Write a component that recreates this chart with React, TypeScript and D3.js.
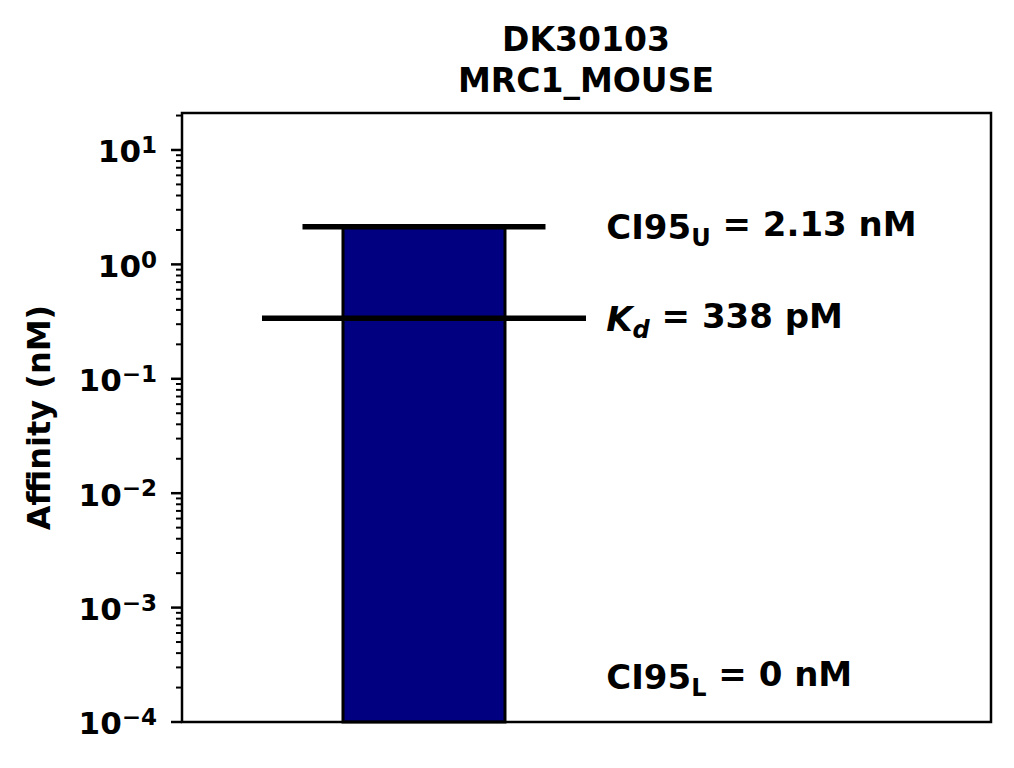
import * as d3 from "d3";
import React from "react";

// values
const categories = ["DK30103"];
const kdValues = [0.338]; // nM
const ci95Upper = [2.13]; // nM
const ci95Lower = [0]; // nM
const titleLines = ["DK30103", "MRC1_MOUSE"];
const yTickExponents = [1, 0, -1, -2, -3, -4];

const W = 1014;
const H = 768;
const margin = { top: 113, right: 23, bottom: 46, left: 182 };
const FONT = "'DejaVu Sans', sans-serif";
const BIG = 34;
const SMALL = 24;

export default function App() {
  const innerW = W - margin.left - margin.right;
  const innerH = H - margin.top - margin.bottom;

  const y = d3.scaleLog().domain([1e-4, 21.05]).range([innerH, 0]);
  const x = d3.scaleLinear().domain([-1.195, 2.8]).range([0, innerW]);

  const minor: number[] = [];
  for (let e = -4; e <= 1; e++) {
    for (let m = 2; m <= 9; m++) {
      const v = m * Math.pow(10, e);
      if (v <= y.domain()[1]) minor.push(v);
    }
  }

  const barW = 0.8;
  const c = 0;
  const upper = ci95Upper[0];
  const kd = kdValues[0];
  const textX = x(0.9);

  return (
    <svg width={W} height={H} style={{ position: "absolute", left: 0, top: 0, background: "#fff" }} fontFamily={FONT} fontWeight="bold">
      <text x={margin.left + x(c) + 162} y={51} textAnchor="middle" fontSize={33}>
        {titleLines[0]}
      </text>
      <text x={margin.left + x(c) + 162} y={92} textAnchor="middle" fontSize={33}>
        {titleLines[1]}
      </text>
      <g transform={`translate(${margin.left},${margin.top})`}>
        {/* bar up to upper CI */}
        <rect
          x={x(c - barW / 2)}
          y={y(upper)}
          width={x(c + barW / 2) - x(c - barW / 2)}
          height={y(1e-4) - y(upper)}
          fill="#000080"
          stroke="#000"
          strokeWidth={3}
        />
        {/* upper CI line */}
        <line x1={x(c - 0.6)} x2={x(c + 0.6)} y1={y(upper)} y2={y(upper)} stroke="#000" strokeWidth={5.5} />
        {/* Kd line */}
        <line x1={x(c - 0.8)} x2={x(c + 0.8)} y1={y(kd)} y2={y(kd)} stroke="#000" strokeWidth={5.5} />

        <text x={textX} y={y(upper)} dy="0.36em" fontSize={BIG}>
          CI95<tspan fontSize={SMALL} dy="0.3em">U</tspan>
          <tspan dy="-0.3em" fontSize={BIG}> = {upper} nM</tspan>
        </text>
        <text x={textX} y={y(kd)} dy="0.36em" fontSize={BIG}>
          <tspan fontStyle="italic">K</tspan>
          <tspan fontStyle="italic" fontSize={SMALL} dy="0.3em">d</tspan>
          <tspan dy="-0.3em" fontSize={BIG}> = {Math.round(kd * 1000)} pM</tspan>
        </text>
        <text x={textX} y={y(2.5e-4)} dy="0.36em" fontSize={BIG}>
          CI95<tspan fontSize={SMALL} dy="0.3em">L</tspan>
          <tspan dy="-0.3em" fontSize={BIG}> = {ci95Lower[0]} nM</tspan>
        </text>

        {/* frame */}
        <rect x={0} y={0} width={innerW} height={innerH} fill="none" stroke="#000" strokeWidth={2.5} />

        {/* minor ticks */}
        {minor.map((v) => (
          <line key={v} x1={-6} x2={0} y1={y(v)} y2={y(v)} stroke="#000" strokeWidth={2} />
        ))}
        {/* major ticks */}
        {yTickExponents.map((e) => {
          const yy = y(Math.pow(10, e));
          const sup = e < 0 ? `\u2212${-e}` : `${e}`;
          return (
            <g key={e}>
              <line x1={-11} x2={0} y1={yy} y2={yy} stroke="#000" strokeWidth={2.5} />
              <text x={-25} y={yy} dy="0.4em" textAnchor="end" fontSize={31}>
                10<tspan fontSize={23} dy="-0.4em">{sup}</tspan>
              </text>
            </g>
          );
        })}

        <text
          transform={`translate(${-132},${innerH / 2}) rotate(-90)`}
          textAnchor="middle"
          fontSize={32}
        >
          Affinity (nM)
        </text>
        <title>{categories[0]}</title>
      </g>
    </svg>
  );
}
